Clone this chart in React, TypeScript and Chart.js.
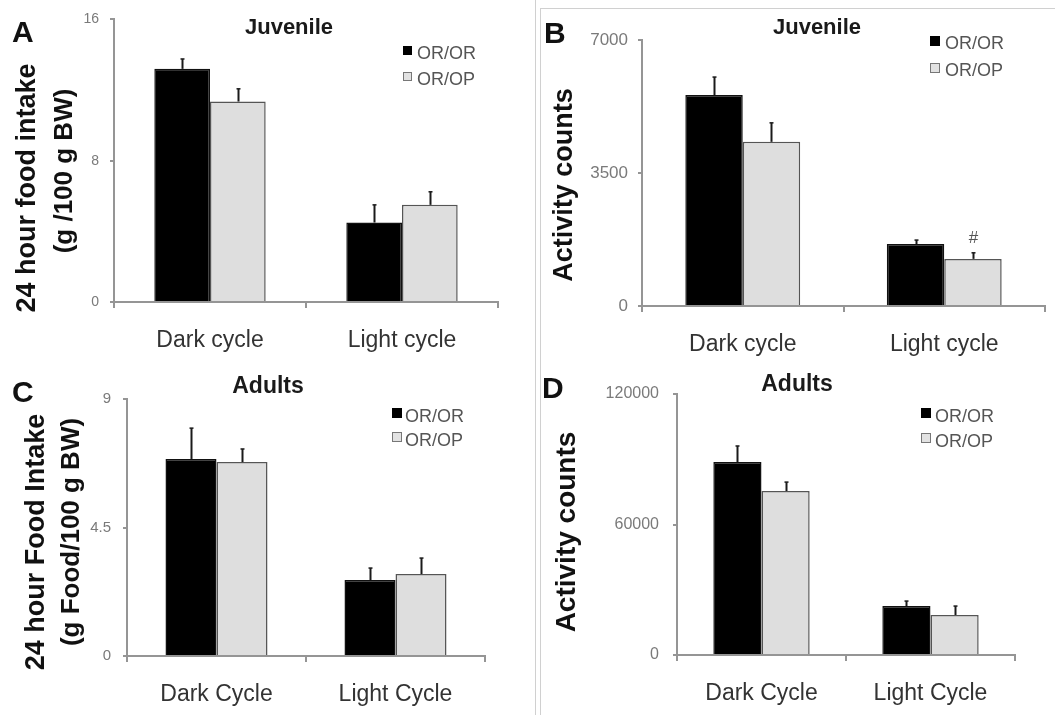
import React, { useEffect, useRef } from 'react';
import { Chart, registerables } from 'chart.js';

Chart.register(...registerables);

const W = 1055;
const H = 715;
const FONT = '"Liberation Sans", Arial, sans-serif';

// ---------- data ----------
const seriesNames = ['OR/OR', 'OR/OP'];

// A: Juvenile food intake
const juvFoodCategories = ['Dark cycle', 'Light cycle'];
const juvFoodOROR = [13.2, 4.5];
const juvFoodORORSem = [0.56, 1.0];
const juvFoodOROP = [11.35, 5.5];
const juvFoodOROPSem = [0.72, 0.74];
const juvFoodTicks = [0, 8, 16];

// B: Juvenile activity
const juvActCategories = ['Dark cycle', 'Light cycle'];
const juvActOROR = [5550, 1630];
const juvActORORSem = [475, 105];
const juvActOROP = [4320, 1240];
const juvActOROPSem = [500, 160];
const juvActTicks = [0, 3500, 7000];
const juvActOROPMarks = ['', '#'];

// C: Adult food intake
const adultFoodCategories = ['Dark Cycle', 'Light Cycle'];
const adultFoodOROR = [6.9, 2.66];
const adultFoodORORSem = [1.08, 0.42];
const adultFoodOROP = [6.79, 2.87];
const adultFoodOROPSem = [0.46, 0.56];
const adultFoodTicks = [0, 4.5, 9];

// D: Adult activity
const adultActCategories = ['Dark Cycle', 'Light Cycle'];
const adultActOROR = [88700, 22500];
const adultActORORSem = [7400, 2300];
const adultActOROP = [75400, 18400];
const adultActOROPSem = [4100, 4100];
const adultActTicks = [0, 60000, 120000];

// ---------- panel layout ----------
type YTitle = { text: string; x: number; y: number; size: number };
type Panel = {
  letter: string;
  letterX: number;
  letterY: number;
  title: string;
  titleX: number;
  titleY: number;
  titleSize: number;
  area: { left: number; top: number; right: number; bottom: number };
  categories: string[];
  oror: number[];
  ororSem: number[];
  orop: number[];
  oropSem: number[];
  oropMarks?: string[];
  ticks: number[];
  tickSize: number;
  tickPad: number;
  catPct: number;
  legend: { sqX: number; sqY: number; sq: number; textX: number; baseY: number; gap: number };
  yTitles: YTitle[];
};

const panels: Panel[] = [
  {
    letter: 'A', letterX: 12, letterY: 42,
    title: 'Juvenile', titleX: 289, titleY: 34, titleSize: 22,
    area: { left: 114, top: 17, right: 498, bottom: 302 },
    categories: juvFoodCategories,
    oror: juvFoodOROR, ororSem: juvFoodORORSem,
    orop: juvFoodOROP, oropSem: juvFoodOROPSem,
    ticks: juvFoodTicks, tickSize: 14, tickPad: 11, catPct: 0.58,
    legend: { sqX: 403, sqY: 46, sq: 9, textX: 417, baseY: 59, gap: 26 },
    yTitles: [
      { text: '24 hour food intake', x: 28, y: 188, size: 27 },
      { text: '(g /100 g BW)', x: 65, y: 171, size: 26 },
    ],
  },
  {
    letter: 'B', letterX: 544, letterY: 43,
    title: 'Juvenile', titleX: 817, titleY: 34, titleSize: 22,
    area: { left: 642, top: 40, right: 1045, bottom: 306 },
    categories: juvActCategories,
    oror: juvActOROR, ororSem: juvActORORSem,
    orop: juvActOROP, oropSem: juvActOROPSem,
    oropMarks: juvActOROPMarks,
    ticks: juvActTicks, tickSize: 17, tickPad: 10, catPct: 0.57,
    legend: { sqX: 930, sqY: 36, sq: 10, textX: 945, baseY: 49, gap: 27 },
    yTitles: [{ text: 'Activity counts', x: 565, y: 185, size: 27 }],
  },
  {
    letter: 'C', letterX: 12, letterY: 402,
    title: 'Adults', titleX: 268, titleY: 393, titleSize: 23,
    area: { left: 127, top: 399, right: 485, bottom: 656 },
    categories: adultFoodCategories,
    oror: adultFoodOROR, ororSem: adultFoodORORSem,
    orop: adultFoodOROP, oropSem: adultFoodOROPSem,
    ticks: adultFoodTicks, tickSize: 15, tickPad: 12, catPct: 0.57,
    legend: { sqX: 392, sqY: 408, sq: 10, textX: 405, baseY: 422, gap: 24 },
    yTitles: [
      { text: '24 hour Food Intake', x: 37, y: 542, size: 27 },
      { text: '(g Food/100 g BW)', x: 72, y: 532, size: 26 },
    ],
  },
  {
    letter: 'D', letterX: 542, letterY: 398,
    title: 'Adults', titleX: 797, titleY: 391, titleSize: 23,
    area: { left: 677, top: 394, right: 1015, bottom: 655 },
    categories: adultActCategories,
    oror: adultActOROR, ororSem: adultActORORSem,
    orop: adultActOROP, oropSem: adultActOROPSem,
    ticks: adultActTicks, tickSize: 16, tickPad: 14, catPct: 0.57,
    legend: { sqX: 921, sqY: 408, sq: 10, textX: 935, baseY: 422, gap: 25 },
    yTitles: [{ text: 'Activity counts', x: 567, y: 532, size: 28 }],
  },
];

function makeDecor(p: Panel) {
  return {
    id: 'decor' + p.letter,
    afterDatasetsDraw(chart: any) {
      const ctx = chart.ctx;
      const yScale = chart.scales.y;
      const sems = [p.ororSem, p.oropSem];
      const vals = [p.oror, p.orop];
      ctx.save();
      for (let d = 0; d < 2; d++) {
        const meta = chart.getDatasetMeta(d);
        meta.data.forEach((el: any, j: number) => {
          const x = Math.round(el.x) + 0.5;
          const yTop = el.y;
          const yErr = yScale.getPixelForValue(vals[d][j] + sems[d][j]);
          ctx.strokeStyle = '#1a1a1a';
          ctx.lineWidth = 2;
          ctx.beginPath();
          ctx.moveTo(x, yTop);
          ctx.lineTo(x, yErr);
          ctx.stroke();
          ctx.lineWidth = 1.5;
          ctx.beginPath();
          ctx.moveTo(x - 2, yErr);
          ctx.lineTo(x + 2, yErr);
          ctx.stroke();
          if (d === 1 && p.oropMarks && p.oropMarks[j]) {
            ctx.fillStyle = '#555';
            ctx.font = `17px ${FONT}`;
            ctx.textAlign = 'center';
            ctx.textBaseline = 'alphabetic';
            ctx.fillText(p.oropMarks[j], x, yErr - 10);
          }
        });
      }
      ctx.restore();
    },
    afterDraw(chart: any) {
      const ctx = chart.ctx;
      ctx.save();
      // panel letter
      ctx.fillStyle = '#111';
      ctx.font = `bold 30px ${FONT}`;
      ctx.textAlign = 'left';
      ctx.textBaseline = 'alphabetic';
      ctx.fillText(p.letter, p.letterX, p.letterY);
      // title
      ctx.fillStyle = '#1a1a1a';
      ctx.font = `bold ${p.titleSize}px ${FONT}`;
      ctx.textAlign = 'center';
      ctx.fillText(p.title, p.titleX, p.titleY);
      // legend
      const L = p.legend;
      ctx.font = `18px ${FONT}`;
      ctx.textAlign = 'left';
      seriesNames.forEach((name, i) => {
        const sy = L.sqY + i * L.gap;
        if (i === 0) {
          ctx.fillStyle = '#000';
          ctx.fillRect(L.sqX, sy, L.sq, L.sq);
        } else {
          ctx.fillStyle = '#e2e2e2';
          ctx.fillRect(L.sqX, sy, L.sq, L.sq);
          ctx.strokeStyle = '#777';
          ctx.lineWidth = 1;
          ctx.strokeRect(L.sqX + 0.5, sy + 0.5, L.sq - 1, L.sq - 1);
        }
        ctx.fillStyle = '#555';
        ctx.fillText(name, L.textX, L.baseY + i * L.gap);
      });
      // y titles
      p.yTitles.forEach((t) => {
        ctx.save();
        ctx.translate(t.x, t.y);
        ctx.rotate(-Math.PI / 2);
        ctx.fillStyle = '#111';
        ctx.font = `bold ${t.size}px ${FONT}`;
        ctx.textAlign = 'center';
        ctx.textBaseline = 'middle';
        ctx.fillText(t.text, 0, 0);
        ctx.restore();
      });
      ctx.restore();
    },
  };
}

function PanelChart({ p }: { p: Panel }) {
  const ref = useRef<HTMLCanvasElement>(null);
  useEffect(() => {
    if (!ref.current) return;
    const A = p.area;
    const axisColor = '#959595';
    const chart = new Chart(ref.current, {
      type: 'bar',
      data: {
        labels: p.categories,
        datasets: [
          {
            label: seriesNames[0],
            data: p.oror,
            backgroundColor: '#000000',
            borderColor: '#111111',
            borderWidth: 1.5,
          },
          {
            label: seriesNames[1],
            data: p.orop,
            backgroundColor: '#dedede',
            borderColor: '#555555',
            borderWidth: 1.5,
          },
        ],
      },
      options: {
        responsive: false,
        animation: false,
        devicePixelRatio: 1,
        events: [],
        layout: { padding: { top: A.top, right: W - A.right, left: 0, bottom: 0 } },
        plugins: {
          legend: { display: false },
          title: { display: false },
          tooltip: { enabled: false },
        },
        datasets: { bar: { barPercentage: 1, categoryPercentage: p.catPct } },
        scales: {
          x: {
            afterFit: (s: any) => {
              s.height = H - A.bottom;
            },
            grid: {
              display: true,
              drawOnChartArea: false,
              drawTicks: true,
              tickLength: 6,
              color: axisColor,
              lineWidth: 2,
              offset: true,
            },
            border: { display: true, color: axisColor, width: 2 },
            ticks: {
              color: '#333',
              font: { family: FONT, size: 23 },
              padding: 19,
              maxRotation: 0,
              autoSkip: false,
            },
          },
          y: {
            min: p.ticks[0],
            max: p.ticks[p.ticks.length - 1],
            afterFit: (s: any) => {
              s.width = A.left;
            },
            afterBuildTicks: (s: any) => {
              s.ticks = p.ticks.map((v) => ({ value: v }));
            },
            grid: {
              display: true,
              drawOnChartArea: false,
              drawTicks: true,
              tickLength: 4,
              color: axisColor,
              lineWidth: 2,
            },
            border: { display: true, color: axisColor, width: 2 },
            ticks: {
              color: '#7a7a7a',
              font: { family: FONT, size: p.tickSize },
              padding: p.tickPad,
              callback: (v: any) => String(v),
            },
          },
        },
      },
      plugins: [makeDecor(p)],
    });
    return () => chart.destroy();
  }, [p]);
  return (
    <canvas
      ref={ref}
      width={W}
      height={H}
      style={{ position: 'absolute', left: 0, top: 0, width: W, height: H }}
    />
  );
}

export default function App() {
  return (
    <div
      style={{
        position: 'fixed',
        left: 0,
        top: 0,
        width: W,
        height: H,
        background: '#ffffff',
        overflow: 'hidden',
      }}
    >
      <div style={{ position: 'absolute', left: 535, top: 0, width: 1, height: H, background: '#d0d0d0' }} />
      <div style={{ position: 'absolute', left: 540, top: 8, width: 1, height: H - 8, background: '#d0d0d0' }} />
      <div style={{ position: 'absolute', left: 540, top: 8, width: W - 540, height: 1, background: '#d0d0d0' }} />
      {panels.map((p) => (
        <PanelChart key={p.letter} p={p} />
      ))}
    </div>
  );
}
